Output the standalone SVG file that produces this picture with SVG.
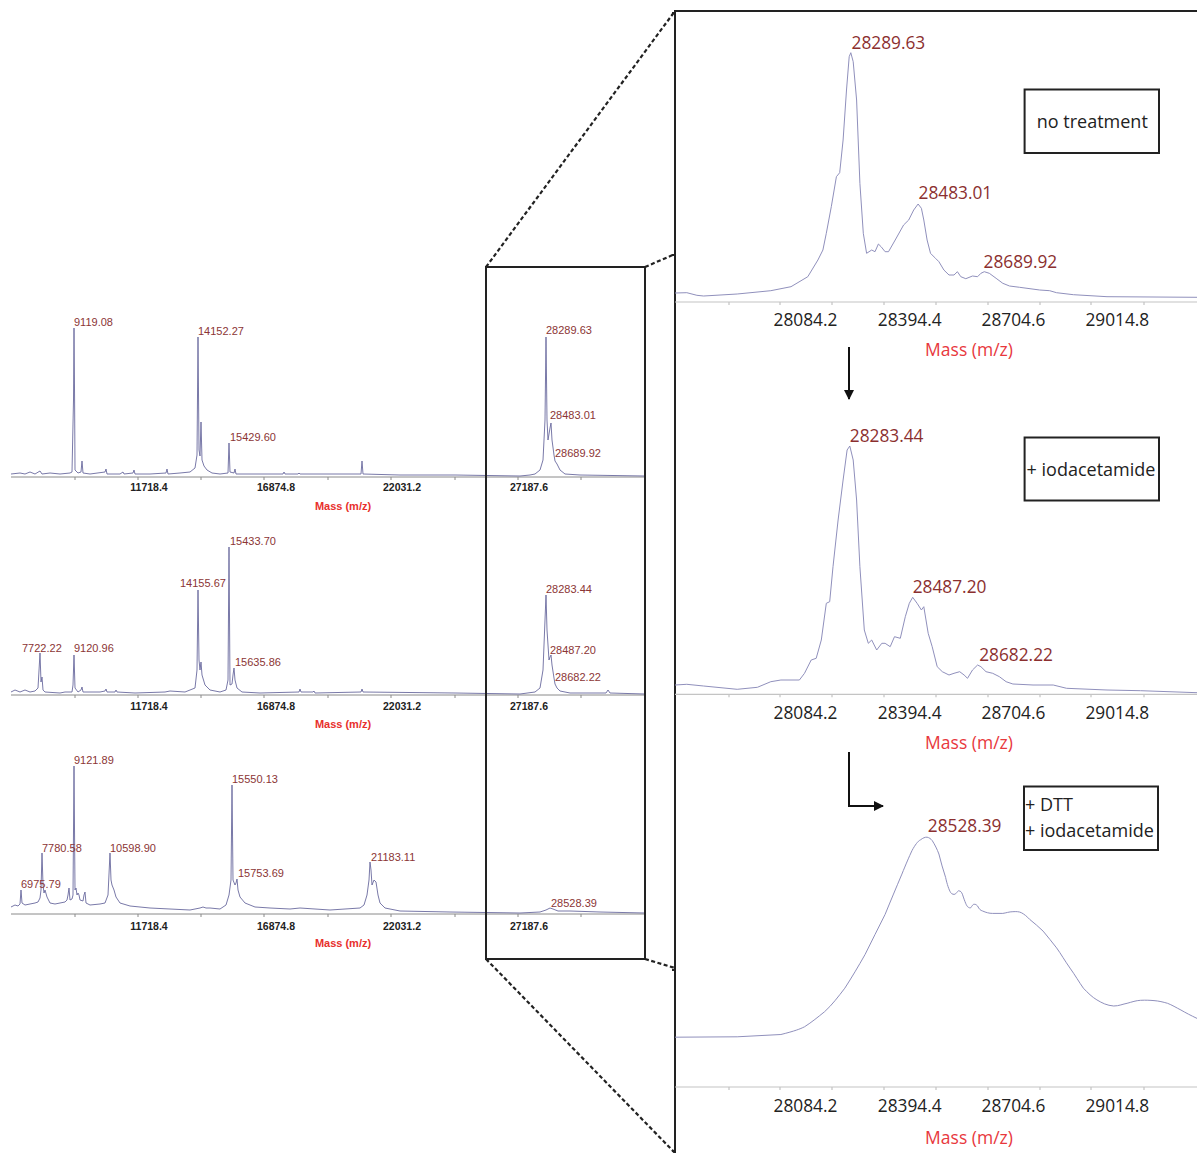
<svg xmlns="http://www.w3.org/2000/svg" width="1197" height="1153" viewBox="0 0 1197 1153">
<defs>
<style>
.spec{fill:none;stroke:#6a6a9e;stroke-width:0.9;stroke-linejoin:round}
.zspec{fill:none;stroke:#9090bc;stroke-width:1;stroke-linejoin:round}
.axis{stroke:#8a8a8a;stroke-width:1;fill:none}
.raxis{stroke:#c4c4c4;stroke-width:1.2;fill:none}
.pk{font-family:"Liberation Sans",Arial,sans-serif;font-size:11px;fill:#8b3535}
.tk{font-family:"Liberation Sans",Arial,sans-serif;font-size:10.5px;font-weight:bold;fill:#222;text-anchor:middle}
.ms{font-family:"Liberation Sans",Arial,sans-serif;font-size:11px;font-weight:bold;fill:#e8302c;text-anchor:middle}
.rpk{font-family:"Open Sans","Noto Sans",sans-serif;font-size:17.3px;fill:#8b2f2f}
.rtk{font-family:"Open Sans","Noto Sans",sans-serif;font-size:17.3px;fill:#222;text-anchor:middle}
.rms{font-family:"Open Sans","Noto Sans",sans-serif;font-size:17.5px;fill:#e8383d;text-anchor:middle}
.box{fill:none;stroke:#222;stroke-width:2}
.btxt{font-family:"Open Sans","Noto Sans",sans-serif;font-size:18px;fill:#222}
.frame{fill:none;stroke:#222;stroke-width:2}
.dash{fill:none;stroke:#222;stroke-width:2.2;stroke-dasharray:4 2.5}
.arr{fill:none;stroke:#111;stroke-width:2}
</style>
<marker id="ah" viewBox="0 0 10 10" refX="9" refY="5" markerWidth="5" markerHeight="5" orient="auto" markerUnits="strokeWidth">
<path d="M0,0 L10,5 L0,10 Z" fill="#111"/>
</marker>
</defs>
<rect x="0" y="0" width="1197" height="1153" fill="#ffffff"/>

<!-- LEFT SPECTRA -->
<g id="left-spectrum-1">
<path class="axis" d="M11,477 H645 M75,477 v3 M138,477 v3 M201,477 v3 M264,477 v3 M328,477 v3 M391,477 v3 M455,477 v3 M518,477 v3 M581,477 v3"/>
<path class="spec" d="M11,474 L20,473 L25,474 L30,472 L35,474 L40,471 L42,474 L50,473 L60,474 L70,473 L72,472 L73.5,400 L74,328 L74.6,400 L75,470 L78,473 L81,472 L82,461 L83,473 L90,474 L105,472 L106,469 L107,474 L120,474 L123,472 L124,474 L133,473 L134,470 L135,474 L150,474 L166,473 L167,469 L168,474 L180,473 L190,472 L195,468 L197,455 L198,337 L199,450 L200,456 L201,422 L202,460 L204,466 L207,470 L212,473 L220,474 L228,473 L229,443 L230,472 L234,473 L235,469 L236,474 L260,474 L283,474 L284,472 L285,474 L298,474 L299,473 L300,474 L361,474 L362,461 L363,474 L400,475 L455,475 L520,476 L530,475 L535,474 L540,470 L543,460 L545,420 L546,337 L547,420 L548,440 L550,428 L551,423 L552,440 L554,455 L555,461 L557,464 L560,470 L565,474 L580,475 L645,476"/>
<text class="pk" x="74" y="326">9119.08</text>
<text class="pk" x="198" y="335">14152.27</text>
<text class="pk" x="230" y="441">15429.60</text>
<text class="pk" x="546" y="334">28289.63</text>
<text class="pk" x="550" y="419">28483.01</text>
<text class="pk" x="555" y="457">28689.92</text>
<text class="tk" x="149" y="491">11718.4</text>
<text class="tk" x="276" y="491">16874.8</text>
<text class="tk" x="402" y="491">22031.2</text>
<text class="tk" x="529" y="491">27187.6</text>
<text class="ms" x="343" y="510">Mass (m/z)</text>
</g>

<g id="left-spectrum-2">
<path class="axis" d="M11,695 H645 M75,695 v3 M138,695 v3 M201,695 v3 M264,695 v3 M328,695 v3 M391,695 v3 M455,695 v3 M518,695 v3 M581,695 v3"/>
<path class="spec" d="M11,692 L15,690 L20,692 L25,690 L30,692 L35,691 L38,688 L40,653 L41,682 L42,677 L43,690 L45,692 L60,693 L65,692 L72,692 L73,685 L74,655 L75,688 L78,692 L81,690 L82,687 L83,692 L100,692 L105,691 L106,689 L107,692 L115,692 L116,690 L117,692 L135,693 L165,692 L170,691 L185,692 L195,688 L197,670 L198,590 L199,660 L200,670 L201,662 L202,675 L205,685 L210,690 L220,692 L226,690 L228,680 L229,547 L230,685 L232,684 L233,675 L234,668 L235,680 L237,688 L242,692 L260,693 L299,692 L300,689 L301,692 L313,692 L314,691 L315,693 L361,692 L362,689 L363,692 L455,693 L520,694 L535,692 L540,688 L543,670 L545,620 L546,595 L547,630 L549,660 L550,657 L551,655 L552,665 L554,678 L555,684 L557,688 L560,691 L570,693 L606,693 L608,690 L610,693 L645,694"/>
<text class="pk" x="22" y="652">7722.22</text>
<text class="pk" x="74" y="652">9120.96</text>
<text class="pk" x="180" y="587">14155.67</text>
<text class="pk" x="230" y="545">15433.70</text>
<text class="pk" x="235" y="666">15635.86</text>
<text class="pk" x="546" y="593">28283.44</text>
<text class="pk" x="550" y="654">28487.20</text>
<text class="pk" x="555" y="681">28682.22</text>
<text class="tk" x="149" y="710">11718.4</text>
<text class="tk" x="276" y="710">16874.8</text>
<text class="tk" x="402" y="710">22031.2</text>
<text class="tk" x="529" y="710">27187.6</text>
<text class="ms" x="343" y="728">Mass (m/z)</text>
</g>

<g id="left-spectrum-3">
<path class="axis" d="M11,914 H645 M75,914 v3 M138,914 v3 M201,914 v3 M264,914 v3 M328,914 v3 M391,914 v3 M455,914 v3 M518,914 v3 M581,914 v3"/>
<path class="spec" d="M11,907 L15,905 L18,906 L20,904 L21,890 L22,903 L25,905 L30,904 L35,903 L38,902 L40,898 L41,890 L42,853 L43,885 L44,893 L45,890 L47,897 L50,903 L55,904 L60,903 L65,902 L67,900 L68,895 L69,888 L70,900 L72,899 L73,895 L74,766 L75,890 L76,888 L77,895 L78,893 L79,895 L80,900 L83,901 L84,895 L85,892 L86,903 L90,905 L100,904 L105,903 L108,895 L110,853 L111,880 L112,885 L114,890 L116,897 L120,903 L130,906 L150,908 L170,909 L190,910 L200,908 L203,907 L206,908 L210,908 L220,909 L226,905 L229,895 L231,880 L232,785 L233,880 L235,885 L236,883 L237,879 L238,890 L240,897 L245,903 L255,907 L270,908 L290,909 L300,908 L330,910 L360,908 L364,905 L367,895 L369,880 L370,862 L371,870 L372,885 L374,880 L376,882 L378,895 L380,903 L385,908 L400,911 L450,912 L520,913 L540,912 L546,910 L550,908 L553,909 L558,911 L570,911 L600,912 L645,913"/>
<text class="pk" x="21" y="888">6975.79</text>
<text class="pk" x="42" y="852">7780.58</text>
<text class="pk" x="74" y="764">9121.89</text>
<text class="pk" x="110" y="852">10598.90</text>
<text class="pk" x="232" y="783">15550.13</text>
<text class="pk" x="238" y="877">15753.69</text>
<text class="pk" x="371" y="861">21183.11</text>
<text class="pk" x="551" y="907">28528.39</text>
<text class="tk" x="149" y="930">11718.4</text>
<text class="tk" x="276" y="930">16874.8</text>
<text class="tk" x="402" y="930">22031.2</text>
<text class="tk" x="529" y="930">27187.6</text>
<text class="ms" x="343" y="947">Mass (m/z)</text>
</g>

<g id="zoom-box">
<rect class="frame" x="486" y="267" width="159" height="692"/>
</g>

<!-- RIGHT ZOOMED PANELS -->
<g id="zoom-frame">
<path class="frame" d="M675,1153 V11 H1197"/>
<path class="frame" stroke-width="1.5" d="M672,13 H675 M672,255 H675 M672,970 H675 M672,1151 H675"/>
</g>

<g id="zoom-panel-1">
<path class="raxis" d="M675,302 H1197 M729,302 v3 M780,302 v3 M832,302 v3 M884,302 v3 M936,302 v3 M988,302 v3 M1040,302 v3 M1091,302 v3 M1144,302 v3"/>
<path class="zspec" d="M675,293 L686.8,292.7 L696.9,295.3 L703.6,296 L737.2,294 L770.8,290.7 L791,286.7 L807.8,276.7 L817.9,260 L822.9,250 L826.3,233.3 L831.3,206.7 L836.4,176.7 L839.7,172.7 L843.1,140 L846.5,90 L849.2,56.7 L850.8,52.7 L853.2,61.7 L856.6,100 L859.9,183.3 L863.3,233.3 L866.6,253.3 L871.7,250 L875,251.7 L878.4,244 L881.1,246.7 L885.1,251.7 L888.5,251.7 L895.2,240 L903.6,225 L908.7,220 L913.7,210 L918.1,204 L921.4,208.3 L923.8,220 L927.1,240 L930.5,253.3 L935.5,258.3 L938.9,261.7 L943.9,270 L949,275 L954,275 L957.4,271.7 L960.8,276.7 L965.8,278.7 L972.5,276 L977.6,276.7 L980.9,273.3 L984.3,271.7 L989.3,273.3 L996.1,278.3 L1002.8,283.3 L1009.5,286 L1019.6,287.3 L1039.7,290 L1049.7,290.7 L1056.5,292.7 L1073.4,294.7 L1107,296.7 L1197,297.3"/>
<text class="rpk" x="851.5" y="49">28289.63</text>
<text class="rpk" x="918.5" y="199">28483.01</text>
<text class="rpk" x="983.5" y="268">28689.92</text>
<text class="rtk" x="805.5" y="326">28084.2</text>
<text class="rtk" x="909.7" y="326">28394.4</text>
<text class="rtk" x="1013.5" y="326">28704.6</text>
<text class="rtk" x="1117.3" y="326">29014.8</text>
<text class="rms" x="969" y="356">Mass (m/z)</text>
</g>

<g id="zoom-panel-2">
<path class="raxis" d="M675,694.3 H1197 M729,694.3 v3 M780,694.3 v3 M832,694.3 v3 M884,694.3 v3 M936,694.3 v3 M988,694.3 v3 M1040,694.3 v3 M1091,694.3 v3 M1144,694.3 v3"/>
<path class="zspec" d="M675,685 L686.8,684.3 L703.6,686 L737.2,689.3 L757.4,687.3 L770.8,681.7 L780.9,680 L799.4,680 L804.5,673.3 L811.2,660 L816.2,658.3 L821.3,640 L826.3,603.3 L829.7,601.7 L833,566.7 L838.1,520 L843.1,480 L847.1,450 L849.8,446 L853.2,460 L856.6,500 L859.9,566.7 L864.3,630 L868.3,643.3 L871.7,640 L876.7,650 L881.8,643.3 L885.1,643.3 L890.2,646.7 L894.5,636.7 L900.3,638.3 L905.3,616.7 L909.3,603.3 L912.7,597.3 L917.1,603.3 L921.4,610 L923.8,606.7 L928.2,633.3 L932.2,646.7 L937.2,666.7 L942.3,671.7 L949,675 L954,673.3 L959.7,671.7 L964.1,675 L967.5,678.3 L972.5,670 L977.6,665 L980.9,666.7 L986,671.7 L992.7,673.3 L999.4,676.7 L1006.1,681.7 L1012.9,684 L1033,685 L1053.2,685 L1066.6,688.3 L1107,690 L1140.6,690.7 L1197,692.7"/>
<text class="rpk" x="849.8" y="442">28283.44</text>
<text class="rpk" x="912.7" y="593">28487.20</text>
<text class="rpk" x="979.2" y="661">28682.22</text>
<text class="rtk" x="805.5" y="719">28084.2</text>
<text class="rtk" x="909.7" y="719">28394.4</text>
<text class="rtk" x="1013.5" y="719">28704.6</text>
<text class="rtk" x="1117.3" y="719">29014.8</text>
<text class="rms" x="969" y="749">Mass (m/z)</text>
</g>

<g id="zoom-panel-3">
<path class="raxis" d="M675,1087 H1197 M729,1087 v3 M780,1087 v3 M832,1087 v3 M884,1087 v3 M936,1087 v3 M988,1087 v3 M1040,1087 v3 M1091,1087 v3 M1144,1087 v3"/>
<path class="zspec" d="M675,1037.2 L737.2,1036.8 L780.9,1034.5 C795,1031 800,1029 804.5,1026.8 C812,1022 818,1017 824.6,1011.7 C832,1005 838,997 844.8,988.2 C852,977 858,967 865,954.6 C872,941 878,928 885.1,914.4 C891,900 896,888 901.9,874.1 C906,864 909,857 912,850.6 C915,845 918,841 920.4,839.9 C923,838 925,837 927.1,837.2 C929,837.5 931,839 932.2,840.5 C935,845 937,849 938.9,854 C941,862 943,870 945.6,877.4 C947,884 949,890 950.7,892.6 C952,894.5 954,894.5 955,894.2 C957,893 958,890 959.1,890.9 C960.5,891 961.5,892 962.4,894.2 C964,899 966,905 967.5,906.6 C969,908 970,908 970.8,907.7 C972,906 973,904 974.2,904.3 C975.5,904 976.5,905 977.6,906 C979,909 980.5,910.5 982.6,911 C986,912.5 989,913.4 992.7,913.4 L1002.8,913.4 C1006,913 1009,911.7 1012.9,911.7 C1016,911.5 1019,911.5 1021.3,912.7 C1024,914 1027,916.5 1029.7,919.4 C1034,923 1039,927 1043.1,931.1 C1048,937 1052,942 1056.6,947.9 C1061,954 1065,961 1070,968.1 C1075,975 1079,982 1083.4,988.2 C1088,993 1092,997 1096.9,999.9 C1102,1003 1107,1005.5 1113.7,1006 C1119,1006 1123,1004 1127.1,1003.3 C1132,1002 1136,1000.5 1140.6,1000.3 C1146,1000 1150,1000.3 1154,1000.6 C1159,1001 1163,1002 1167.5,1003.3 C1172,1005 1176,1007.5 1180.9,1010 C1186,1013 1191,1015.5 1197,1018.4"/>
<text class="rpk" x="927.8" y="832">28528.39</text>
<text class="rtk" x="805.5" y="1111.5">28084.2</text>
<text class="rtk" x="909.7" y="1111.5">28394.4</text>
<text class="rtk" x="1013.5" y="1111.5">28704.6</text>
<text class="rtk" x="1117.3" y="1111.5">29014.8</text>
<text class="rms" x="969" y="1143.5">Mass (m/z)</text>
</g>

<g id="label-no-treatment">
<rect class="box" x="1024.6" y="89.5" width="134.4" height="63.5"/>
<text class="btxt" x="1092.3" y="128" text-anchor="middle">no treatment</text>
</g>
<g id="label-iodacetamide">
<rect class="box" x="1024.6" y="437.5" width="134.4" height="63"/>
<text class="btxt" x="1091" y="475.5" text-anchor="middle">+ iodacetamide</text>
</g>
<g id="label-dtt-iodacetamide">
<rect class="box" x="1024" y="786.5" width="134" height="63.5"/>
<text class="btxt" x="1025" y="811">+ DTT</text>
<text class="btxt" x="1025" y="836.5">+ iodacetamide</text>
</g>

<g id="connectors">
<path class="dash" d="M486,267 L675,11"/>
<path class="dash" d="M645,267 L675,254"/>
<path class="dash" d="M486,959 L675,1153"/>
<path class="dash" d="M645,959 L675,968"/>
<path class="arr" d="M849,347 V399" marker-end="url(#ah)"/>
<path class="arr" d="M849,752 V806 H883" marker-end="url(#ah)"/>
</g>
</svg>
